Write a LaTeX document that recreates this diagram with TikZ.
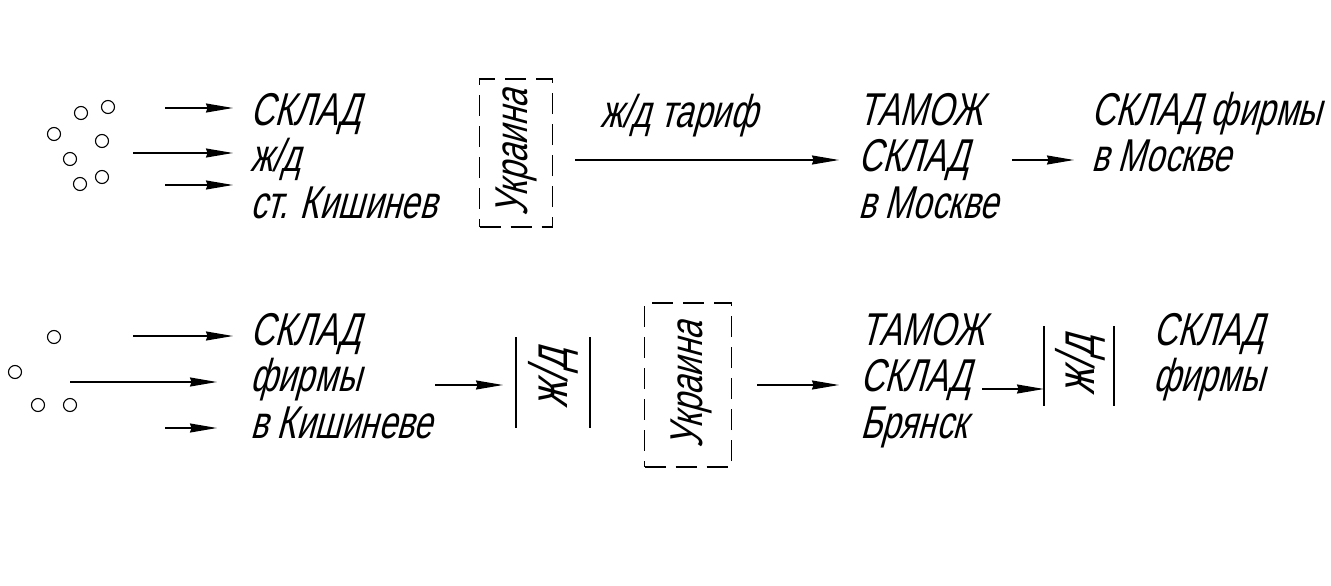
\documentclass[tikz,border=0pt]{standalone}
\usepackage{fontspec}
\setmainfont{Liberation Sans}[FakeSlant=0.27,FakeStretch=0.72]
\usetikzlibrary{arrows.meta}
\begin{document}
\begin{tikzpicture}[x=1pt,y=-1pt,
  lbl/.style={anchor=base west,inner sep=0pt,font=\fontsize{46}{50}\selectfont},
  rlbl/.style={rotate=90,inner sep=0pt,font=\fontsize{46}{50}\selectfont},
  rjd/.style={rotate=90,inner sep=0pt,font=\fontsize{54}{58}\selectfont},
  arr/.style={line width=1.4pt,-{Stealth[length=27pt,width=9pt,inset=1.5pt]}},
  dot/.style={circle,draw,line width=1.1pt,minimum size=13pt,inner sep=0pt},
  dbox/.style={draw,line width=1.2pt,dash pattern=on 21pt off 10pt},
  bar/.style={line width=1.2pt}]
\useasboundingbox (0,0) rectangle (1331,586);

% ---------- row 1 ----------
\node[dot] (c1) at (81,113) {};
\node[dot] (c2) at (108,107) {};
\node[dot] (c3) at (54,134) {};
\node[dot] (c4) at (102,141) {};
\node[dot] (c5) at (70,159) {};
\node[dot] (c6) at (80,184) {};
\node[dot] (c7) at (102,177) {};

\coordinate (a1s) at (165,108); \coordinate (a1e) at (233,108);
\coordinate (a2s) at (133,153); \coordinate (a2e) at (233,153);
\coordinate (a3s) at (165,185); \coordinate (a3e) at (233,185);
\draw[arr] (a1s) -- (a1e);
\draw[arr] (a2s) -- (a2e);
\draw[arr] (a3s) -- (a3e);

\node[lbl] (t1a) at (250,125) {СКЛАД};
\node[lbl] (t1b) at (250,171) {ж/д};
\node[lbl] (t1c) at (250,218) {ст. Кишинев};

\node[dbox,minimum width=73pt,minimum height=148pt,inner sep=0pt] (u1) at (516,153) {};
\node[rlbl] (u1t) at (516,153) {Украина};

\coordinate (b1s) at (575,160);
\node[lbl] (t2a) at (858,125) {ТАМОЖ};
\node[lbl] (t2b) at (858,171) {СКЛАД};
\node[lbl] (t2c) at (858,218) {в Москве};
\coordinate (b1e) at (839,160);
\draw[arr] (b1s) -- (b1e);
\node[lbl] (tar) at (600,127) {ж/д тариф};

\coordinate (b2s) at (1012,160); \coordinate (b2e) at (1074,160);
\draw[arr] (b2s) -- (b2e);
\node[lbl] (t3a) at (1091,125) {СКЛАД фирмы};
\node[lbl] (t3b) at (1091,171) {в Москве};

% ---------- row 2 ----------
\node[dot] (d1) at (54,337) {};
\node[dot] (d2) at (15,372) {};
\node[dot] (d3) at (38,405) {};
\node[dot] (d4) at (70,405) {};

\coordinate (e1s) at (133,336); \coordinate (e1e) at (233,336);
\coordinate (e2s) at (70,382);  \coordinate (e2e) at (217,382);
\coordinate (e3s) at (165,428); \coordinate (e3e) at (217,428);
\draw[arr] (e1s) -- (e1e);
\draw[arr] (e2s) -- (e2e);
\draw[arr] (e3s) -- (e3e);

\node[lbl] (s1a) at (250,345) {СКЛАД};
\node[lbl] (s1b) at (250,391) {фирмы};
\node[lbl] (s1c) at (250,438) {в Кишиневе};

\coordinate (f1s) at (435,385); \coordinate (f1e) at (503,385);
\draw[arr] (f1s) -- (f1e);
\coordinate (g1t) at (516,337); \coordinate (g1b) at (516,428);
\coordinate (g2t) at (590,337); \coordinate (g2b) at (590,428);
\draw[bar] (g1t) -- (g1b);
\draw[bar] (g2t) -- (g2b);
\node[rjd] (jd1) at (553,379) {ж/д};

\node[dbox,minimum width=87pt,minimum height=164pt,inner sep=0pt] (u2) at (688,385) {};
\node[rlbl] (u2t) at (691,385) {Украина};

\coordinate (f2s) at (757,385); \coordinate (f2e) at (839,385);
\draw[arr] (f2s) -- (f2e);

\node[lbl] (s2a) at (860,345) {ТАМОЖ};
\node[lbl] (s2b) at (860,391) {СКЛАД};
\node[lbl] (s2c) at (860,438) {Брянск};

\coordinate (f3s) at (982,389); \coordinate (f3e) at (1044,389);
\draw[arr] (f3s) -- (f3e);
\coordinate (h1t) at (1044,326); \coordinate (h1b) at (1044,406);
\coordinate (h2t) at (1114,326); \coordinate (h2b) at (1114,406);
\draw[bar] (h1t) -- (h1b);
\draw[bar] (h2t) -- (h2b);
\node[rjd] (jd2) at (1080,366) {ж/д};

\node[lbl] (s3a) at (1153,345) {СКЛАД};
\node[lbl] (s3b) at (1153,391) {фирмы};
\end{tikzpicture}
\end{document}
